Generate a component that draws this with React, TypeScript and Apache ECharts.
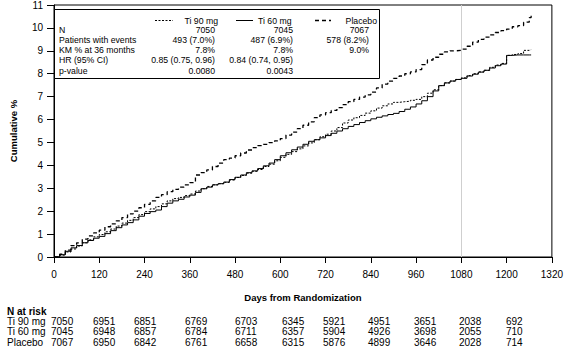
import React, { useEffect, useRef } from "react";
import * as echarts from "echarts";

const FONT = '"Liberation Sans", Arial, Helvetica, sans-serif';

// Days on which curve values were read (15-day grid + last follow-up day)
const days: number[] = [
  0, 15, 30, 45, 60, 75, 90, 105, 120, 135, 150, 165, 180, 195, 210, 225, 240, 255, 270, 285,
  300, 315, 330, 345, 360, 375, 390, 405, 420, 435, 450, 465, 480, 495, 510, 525, 540, 555,
  570, 585, 600, 615, 630, 645, 660, 675, 690, 705, 720, 735, 750, 765, 780, 795, 810, 825,
  840, 855, 870, 885, 900, 915, 930, 945, 960, 975, 990, 1005, 1020, 1035, 1050, 1065, 1080,
  1095, 1110, 1125, 1140, 1155, 1170, 1185, 1200, 1215, 1230, 1245, 1260, 1265,
];

const ti90: number[] = [
  0, 0.08, 0.22, 0.35, 0.48, 0.62, 0.75, 0.88, 0.98, 1.1, 1.22, 1.35, 1.48, 1.6, 1.72, 1.85,
  1.98, 2.1, 2.2, 2.32, 2.45, 2.55, 2.6, 2.68, 2.75, 2.88, 2.98, 3.08, 3.15, 3.2, 3.26, 3.36,
  3.47, 3.56, 3.66, 3.74, 3.82, 3.95, 4.05, 4.2, 4.35, 4.48, 4.6, 4.72, 4.85, 4.98, 5.12,
  5.25, 5.36, 5.5, 5.65, 5.85, 5.98, 6.08, 6.18, 6.28, 6.38, 6.5, 6.6, 6.68, 6.75, 6.78, 6.8,
  6.84, 6.88, 7.0, 7.15, 7.3, 7.48, 7.6, 7.68, 7.75, 7.82, 7.92, 8.0, 8.08, 8.15, 8.28,
  8.38, 8.45, 8.8, 8.84, 8.88, 9.02, 9.05, 9.05,
];

const ti60: number[] = [
  0, 0.1, 0.25, 0.4, 0.5, 0.62, 0.72, 0.82, 0.9, 1.02, 1.15, 1.28, 1.4, 1.5, 1.62, 1.78, 1.9,
  1.98, 2.05, 2.2, 2.35, 2.45, 2.52, 2.62, 2.7, 2.82, 2.98, 3.05, 3.15, 3.2, 3.27, 3.38, 3.48,
  3.58, 3.68, 3.76, 3.86, 3.98, 4.1, 4.25, 4.42, 4.55, 4.68, 4.8, 4.92, 5.05, 5.12, 5.2, 5.3,
  5.4, 5.5, 5.6, 5.7, 5.78, 5.87, 5.95, 6.03, 6.1, 6.16, 6.22, 6.27, 6.35, 6.45, 6.55, 6.68,
  6.82, 7.0, 7.25, 7.48, 7.6, 7.68, 7.75, 7.8, 7.9, 7.98, 8.07, 8.15, 8.25, 8.35, 8.42, 8.8,
  8.82, 8.82, 8.82, 8.82, 8.82,
];

const placebo: number[] = [
  0, 0.12, 0.3, 0.5, 0.62, 0.78, 0.92, 1.05, 1.17, 1.32, 1.45, 1.58, 1.72, 1.88, 2.0, 2.15,
  2.3, 2.45, 2.6, 2.72, 2.85, 2.95, 3.05, 3.15, 3.25, 3.58, 3.68, 3.8, 3.95, 4.1, 4.25, 4.32,
  4.42, 4.54, 4.67, 4.77, 4.86, 4.92, 4.99, 5.07, 5.17, 5.32, 5.45, 5.6, 5.75, 5.9, 6.08, 6.2,
  6.3, 6.4, 6.52, 6.65, 6.78, 6.88, 6.98, 7.08, 7.2, 7.38, 7.55, 7.68, 7.8, 7.9, 8.0, 8.08,
  8.18, 8.4, 8.6, 8.72, 8.85, 8.95, 9.0, 9.02, 9.07, 9.2, 9.38, 9.5, 9.6, 9.7, 9.8, 9.88, 9.95,
  10.05, 10.1, 10.25, 10.45, 10.6,
];

const seriesNames = ["Ti 90 mg", "Ti 60 mg", "Placebo"];

// Summary table in the legend box
const statLabels = ["N", "Patients with events", "KM % at 36 months", "HR (95% CI)", "p-value"];
const statTi90 = ["7050", "493 (7.0%)", "7.8%", "0.85 (0.75, 0.96)", "0.0080"];
const statTi60 = ["7045", "487 (6.9%)", "7.8%", "0.84 (0.74, 0.95)", "0.0043"];
const statPlacebo = ["7067", "578 (8.2%)", "9.0%", "", ""];

// Number at risk table
const riskRowLabels = ["Ti 90 mg", "Ti 60 mg", "Placebo"];
const riskTi90 = [7050, 6951, 6851, 6769, 6703, 6345, 5921, 4951, 3651, 2038, 692];
const riskTi60 = [7045, 6948, 6857, 6784, 6711, 6357, 5904, 4926, 3698, 2055, 710];
const riskPlacebo = [7067, 6950, 6842, 6761, 6658, 6315, 5876, 4899, 3646, 2028, 714];

// layout (pixels)
const riskColX = [51, 93, 134, 185, 235, 282, 323, 368, 414, 459, 506];
const riskRowY = [321.5, 331.5, 342];

function pairs(vals: number[]) {
  return vals.map((v, i) => [days[i], v]);
}

export default function App() {
  const ref = useRef<HTMLDivElement>(null);
  useEffect(() => {
    document.body.style.margin = "0";
    if (!ref.current) return;
    const chart = echarts.init(ref.current, undefined, { renderer: "svg" });

    const graphic: any[] = [];
    // legend box
    graphic.push({
      type: "rect",
      shape: { x: 54.5, y: 9.5, width: 325, height: 69 },
      style: { fill: "#fff", stroke: "#000", lineWidth: 1 },
      z: 10,
    });
    const txt = (text: string, x: number, y: number, align: string, size: number, bold = false) => ({
      type: "text",
      x,
      y,
      z: 11,
      style: {
        text,
        fill: "#000",
        font: `${bold ? "bold " : ""}${size}px ${FONT}`,
        align,
        verticalAlign: "middle",
        textAlign: align,
        textVerticalAlign: "middle",
      },
    });
    const ln = (x1: number, x2: number, y: number, dash: any, w: number) => ({
      type: "line",
      z: 11,
      shape: { x1, y1: y, x2, y2: y },
      style: { stroke: "#000", lineWidth: w, lineDash: dash },
    });
    const hy = 20.5;
    graphic.push(ln(155, 173, hy, [2, 1.5], 1));
    graphic.push(txt(seriesNames[0], 218, hy, "right", 8.7));
    graphic.push(ln(236, 253, hy, null, 1));
    graphic.push(txt(seriesNames[1], 258, hy, "left", 8.7));
    graphic.push(ln(315, 331, hy, [4, 3], 1.3));
    graphic.push(txt(seriesNames[2], 377, hy, "right", 8.7));
    const rowY = [29.5, 39.8, 50.1, 60.4, 70.7];
    statLabels.forEach((l, i) => {
      graphic.push(txt(l, 59, rowY[i], "left", 8.7));
      graphic.push(txt(statTi90[i], 215, rowY[i], "right", 8.7));
      graphic.push(txt(statTi60[i], 293, rowY[i], "right", 8.7));
      if (statPlacebo[i]) graphic.push(txt(statPlacebo[i], 369, rowY[i], "right", 8.7));
    });

    // N at risk
    graphic.push(txt("N at risk", 7, 311, "left", 10, true));
    [riskTi90, riskTi60, riskPlacebo].forEach((row, r) => {
      graphic.push(txt(riskRowLabels[r], 7, riskRowY[r], "left", 10));
      row.forEach((v, c) => {
        graphic.push(txt(String(v), riskColX[c], riskRowY[r], "left", 10));
      });
    });

    chart.setOption({
      animation: false,
      backgroundColor: "#fff",
      textStyle: { fontFamily: FONT },
      grid: {
        left: 51,
        right: 14,
        top: 5,
        bottom: 95,
        show: true,
        borderColor: "#000",
        borderWidth: 1,
        backgroundColor: "transparent",
      },
      xAxis: {
        type: "value",
        min: 0,
        max: 1320,
        interval: 120,
        name: "Days from Randomization",
        nameLocation: "middle",
        nameGap: 35,
        nameTextStyle: { fontWeight: "bold", fontSize: 9.5, color: "#000", fontFamily: FONT },
        axisLine: { show: true, lineStyle: { color: "#000", width: 1 } },
        axisTick: { show: true, length: 6, lineStyle: { color: "#000" } },
        axisLabel: {
          color: "#000",
          fontSize: 10,
          margin: 12,
          fontFamily: FONT,
          formatter: (v: number) => String(v),
        },
        splitLine: { show: false },
      },
      yAxis: {
        type: "value",
        min: 0,
        max: 11,
        interval: 1,
        name: "Cumulative %",
        nameLocation: "middle",
        nameGap: 36,
        nameTextStyle: { fontWeight: "bold", fontSize: 9.5, color: "#000", fontFamily: FONT },
        axisLine: { show: true, lineStyle: { color: "#000", width: 1 } },
        axisTick: { show: true, length: 7, lineStyle: { color: "#000" } },
        axisLabel: { color: "#000", fontSize: 10, margin: 11, fontFamily: FONT },
        splitLine: { show: false },
      },
      series: [
        {
          name: seriesNames[0],
          type: "line",
          step: "end",
          showSymbol: false,
          data: pairs(ti90),
          lineStyle: { color: "#000", width: 1, type: [2, 1.5] },
          z: 3,
          markLine: {
            silent: true,
            symbol: "none",
            label: { show: false },
            lineStyle: { color: "#cfcfcf", type: "solid", width: 1 },
            data: [{ xAxis: 1080 }],
            z: 1,
          },
        },
        {
          name: seriesNames[1],
          type: "line",
          step: "end",
          showSymbol: false,
          data: pairs(ti60),
          lineStyle: { color: "#000", width: 1, type: "solid" },
          z: 3,
        },
        {
          name: seriesNames[2],
          type: "line",
          step: "end",
          showSymbol: false,
          data: pairs(placebo),
          lineStyle: { color: "#000", width: 1.3, type: [4, 3] },
          z: 3,
        },
      ],
      graphic,
    });
    return () => chart.dispose();
  }, []);
  return <div ref={ref} style={{ width: 566, height: 352 }} />;
}
